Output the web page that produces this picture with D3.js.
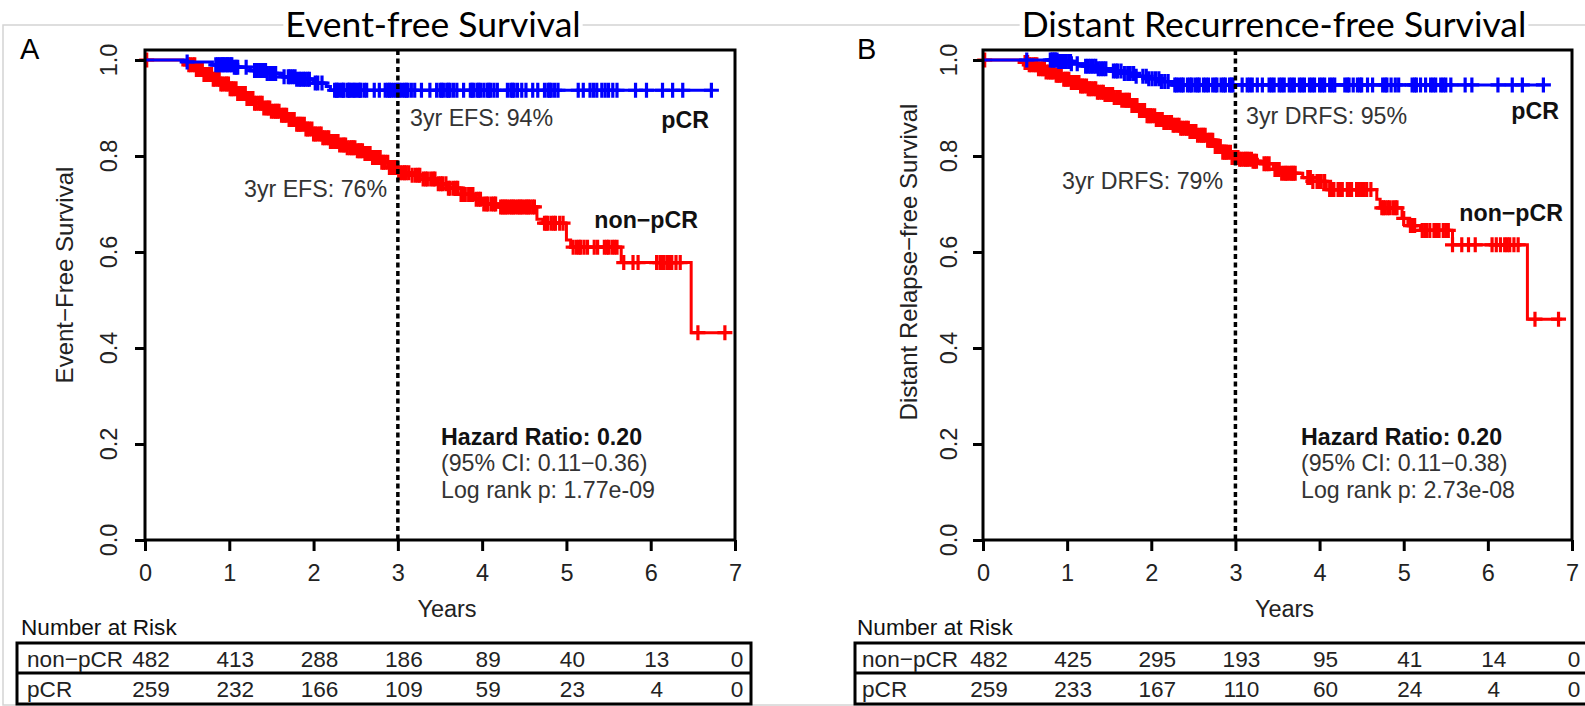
<!DOCTYPE html>
<html><head><meta charset="utf-8">
<script src="https://cdn.jsdelivr.net/npm/d3@7"></script>
<style>
body{margin:0;background:#fff;}
svg{display:block;}
text{font-family:"Liberation Sans",Arial,Helvetica,sans-serif;}
</style></head><body>
<svg id="chart" width="1585" height="706"></svg>
<script>
// ---------------- data ----------------
const yearTicks = [0, 1, 2, 3, 4, 5, 6, 7];
const survTicks = [0, 0.2, 0.4, 0.6, 0.8, 1.0];
const survTickLabels = ["0.0", "0.2", "0.4", "0.6", "0.8", "1.0"];
const groupNames = ["non\u2212pCR", "pCR"];

// Panel A: Event-free survival
const efsNonPcrTimes = [0, 0.45, 0.5, 0.6, 0.7, 0.8, 0.9, 1.0, 1.1, 1.2, 1.3, 1.4, 1.5, 1.6, 1.7, 1.8, 1.9, 2.0, 2.1, 2.2, 2.3, 2.4, 2.5, 2.6, 2.7, 2.8, 2.9, 3.0, 3.15, 3.3, 3.45, 3.6, 3.75, 3.9, 4.0, 4.2, 4.65, 4.72, 5.0, 5.05, 5.65, 6.48];
const efsNonPcrSurv  = [1.0, 0.995, 0.99, 0.98, 0.97, 0.96, 0.95, 0.94, 0.93, 0.92, 0.91, 0.90, 0.893, 0.885, 0.876, 0.866, 0.856, 0.846, 0.838, 0.83, 0.823, 0.817, 0.811, 0.805, 0.797, 0.787, 0.776, 0.765, 0.76, 0.752, 0.742, 0.733, 0.72, 0.71, 0.70, 0.694, 0.668, 0.66, 0.625, 0.61, 0.578, 0.432];
const efsNonPcrCensor = [0.02, 0.52, 0.54, 0.57, 0.59, 0.61, 0.63, 0.66, 0.68, 0.7, 0.72, 0.74, 0.77, 0.79, 0.81, 0.83, 0.86, 0.88, 0.9, 0.92, 0.95, 0.97, 0.99, 1.01, 1.03, 1.05, 1.08, 1.1, 1.12, 1.14, 1.17, 1.19, 1.21, 1.23, 1.26, 1.28, 1.3, 1.32, 1.35, 1.37, 1.39, 1.41, 1.44, 1.46, 1.48, 1.5, 1.53, 1.55, 1.57, 1.59, 1.62, 1.64, 1.66, 1.68, 1.71, 1.73, 1.75, 1.77, 1.8, 1.82, 1.84, 1.86, 1.89, 1.91, 1.93, 1.95, 1.98, 2.0, 2.02, 2.04, 2.07, 2.09, 2.11, 2.13, 2.16, 2.18, 2.2, 2.22, 2.25, 2.27, 2.29, 2.31, 2.34, 2.36, 2.38, 2.4, 2.43, 2.45, 2.47, 2.49, 2.52, 2.54, 2.56, 2.58, 2.61, 2.63, 2.65, 2.67, 2.7, 2.72, 2.74, 2.76, 2.79, 2.81, 2.83, 2.85, 2.88, 2.9, 2.92, 2.94, 2.97, 2.99, 3.01, 3.03, 3.06, 3.08, 3.1, 3.13, 3.17, 3.21, 3.24, 3.26, 3.3, 3.33, 3.35, 3.39, 3.42, 3.44, 3.48, 3.51, 3.53, 3.57, 3.6, 3.62, 3.66, 3.69, 3.71, 3.75, 3.78, 3.8, 3.84, 3.87, 3.89, 3.93, 3.96, 3.98, 4.02, 4.05, 4.07, 4.11, 4.14, 4.16, 4.22, 4.24, 4.26, 4.28, 4.3, 4.33, 4.35, 4.37, 4.39, 4.42, 4.44, 4.46, 4.48, 4.51, 4.53, 4.55, 4.57, 4.6, 4.62, 4.74, 4.76, 4.78, 4.82, 4.85, 4.87, 4.92, 4.96, 5.08, 5.12, 5.15, 5.17, 5.21, 5.25, 5.33, 5.37, 5.45, 5.48, 5.5, 5.54, 5.57, 5.6, 5.68, 5.79, 5.85, 6.07, 6.11, 6.14, 6.16, 6.2, 6.23, 6.25, 6.3, 6.35, 6.56, 6.88];
const efsNonPcrEnd = 6.88;

const efsPcrTimes = [0, 0.5, 0.8, 1.05, 1.25, 1.45, 1.6, 1.8, 2.0, 2.15, 2.2];
const efsPcrSurv  = [1.0, 0.996, 0.99, 0.985, 0.978, 0.972, 0.965, 0.96, 0.952, 0.945, 0.937];
const efsPcrCensor = [0.5, 0.84, 0.86, 0.88, 0.9, 0.92, 0.93, 0.95, 0.97, 0.98, 1.0, 1.02, 1.03, 1.06, 1.08, 1.1, 1.2, 1.3, 1.32, 1.33, 1.36, 1.38, 1.4, 1.43, 1.45, 1.48, 1.5, 1.53, 1.55, 1.65, 1.7, 1.72, 1.75, 1.78, 1.8, 1.83, 1.85, 1.88, 1.9, 1.93, 1.95, 2.02, 2.05, 2.1, 2.25, 2.27, 2.28, 2.3, 2.33, 2.35, 2.36, 2.4, 2.42, 2.43, 2.46, 2.48, 2.5, 2.53, 2.55, 2.56, 2.6, 2.63, 2.72, 2.78, 2.85, 2.88, 2.9, 2.92, 2.95, 2.98, 3.0, 3.02, 3.05, 3.08, 3.1, 3.12, 3.16, 3.2, 3.28, 3.38, 3.46, 3.5, 3.52, 3.54, 3.58, 3.6, 3.62, 3.66, 3.7, 3.78, 3.86, 3.88, 3.9, 3.94, 3.96, 3.98, 4.02, 4.06, 4.08, 4.1, 4.14, 4.18, 4.3, 4.34, 4.36, 4.38, 4.42, 4.47, 4.52, 4.6, 4.66, 4.74, 4.78, 4.8, 4.82, 4.86, 4.9, 5.14, 5.2, 5.28, 5.32, 5.36, 5.42, 5.46, 5.5, 5.55, 5.6, 5.82, 5.95, 6.14, 6.26, 6.38, 6.72];
const efsPcrEnd = 6.72;

const efsRiskNonPcr = [482, 413, 288, 186, 89, 40, 13, 0];
const efsRiskPcr    = [259, 232, 166, 109, 59, 23, 4, 0];

// Panel B: Distant relapse-free survival
const drfsNonPcrTimes = [0, 0.45, 0.55, 0.65, 0.75, 0.85, 0.95, 1.05, 1.15, 1.25, 1.35, 1.45, 1.55, 1.65, 1.75, 1.85, 1.95, 2.05, 2.15, 2.25, 2.35, 2.45, 2.55, 2.65, 2.75, 2.85, 2.95, 3.05, 3.2, 3.3, 3.45, 3.55, 3.8, 3.9, 4.08, 4.68, 4.72, 4.98, 5.05, 5.2, 5.58, 6.47];
const drfsNonPcrSurv  = [1.0, 0.995, 0.99, 0.982, 0.975, 0.968, 0.96, 0.953, 0.946, 0.94, 0.933, 0.928, 0.922, 0.916, 0.905, 0.895, 0.884, 0.876, 0.87, 0.864, 0.858, 0.851, 0.843, 0.833, 0.82, 0.808, 0.797, 0.793, 0.789, 0.784, 0.772, 0.764, 0.755, 0.747, 0.73, 0.71, 0.692, 0.67, 0.655, 0.645, 0.615, 0.46];
const drfsNonPcrCensor = [0.02, 0.5, 0.53, 0.55, 0.57, 0.6, 0.62, 0.64, 0.66, 0.69, 0.71, 0.73, 0.75, 0.78, 0.8, 0.82, 0.84, 0.87, 0.89, 0.91, 0.93, 0.96, 0.98, 1.0, 1.02, 1.05, 1.07, 1.09, 1.11, 1.14, 1.16, 1.18, 1.2, 1.23, 1.25, 1.27, 1.29, 1.32, 1.34, 1.36, 1.38, 1.41, 1.43, 1.45, 1.47, 1.5, 1.52, 1.54, 1.56, 1.59, 1.61, 1.63, 1.65, 1.68, 1.7, 1.72, 1.74, 1.77, 1.79, 1.81, 1.83, 1.86, 1.88, 1.9, 1.92, 1.95, 1.97, 1.99, 2.01, 2.04, 2.06, 2.08, 2.1, 2.13, 2.15, 2.17, 2.19, 2.22, 2.24, 2.26, 2.28, 2.31, 2.33, 2.35, 2.37, 2.4, 2.42, 2.44, 2.46, 2.49, 2.51, 2.53, 2.55, 2.58, 2.6, 2.62, 2.64, 2.67, 2.69, 2.71, 2.73, 2.76, 2.78, 2.8, 2.82, 2.85, 2.87, 2.89, 2.91, 2.94, 2.96, 2.98, 3.0, 3.03, 3.05, 3.07, 3.1, 3.12, 3.14, 3.16, 3.19, 3.21, 3.23, 3.25, 3.34, 3.37, 3.4, 3.47, 3.5, 3.52, 3.55, 3.58, 3.6, 3.62, 3.65, 3.67, 3.69, 3.71, 3.86, 3.89, 3.92, 3.97, 4.0, 4.02, 4.06, 4.12, 4.15, 4.17, 4.22, 4.25, 4.27, 4.33, 4.36, 4.38, 4.44, 4.47, 4.5, 4.53, 4.56, 4.61, 4.74, 4.76, 4.78, 4.81, 4.83, 4.87, 4.9, 4.92, 5.0, 5.08, 5.11, 5.13, 5.22, 5.25, 5.27, 5.31, 5.36, 5.39, 5.42, 5.47, 5.5, 5.53, 5.58, 5.69, 5.77, 5.85, 6.05, 6.1, 6.15, 6.2, 6.23, 6.26, 6.31, 6.36, 6.56, 6.84];
const drfsNonPcrEnd = 6.88;

const drfsPcrTimes = [0, 0.9, 1.05, 1.2, 1.35, 1.5, 1.65, 1.8, 1.95, 2.1, 2.25];
const drfsPcrSurv  = [1.0, 0.997, 0.992, 0.987, 0.982, 0.977, 0.972, 0.966, 0.961, 0.955, 0.948];
const drfsPcrCensor = [0.52, 0.8, 0.82, 0.83, 0.85, 0.86, 0.88, 0.9, 0.91, 0.93, 0.95, 0.96, 0.98, 0.99, 1.02, 1.04, 1.05, 1.12, 1.22, 1.25, 1.28, 1.31, 1.34, 1.37, 1.4, 1.43, 1.46, 1.55, 1.58, 1.6, 1.64, 1.68, 1.72, 1.75, 1.79, 1.82, 1.9, 1.94, 1.97, 2.01, 2.05, 2.09, 2.12, 2.16, 2.2, 2.28, 2.3, 2.33, 2.36, 2.38, 2.43, 2.46, 2.48, 2.52, 2.55, 2.57, 2.62, 2.65, 2.68, 2.73, 2.76, 2.78, 2.83, 2.86, 2.88, 2.93, 2.95, 2.97, 3.08, 3.14, 3.17, 3.2, 3.26, 3.32, 3.4, 3.43, 3.46, 3.52, 3.55, 3.58, 3.64, 3.67, 3.7, 3.76, 3.79, 3.82, 3.88, 3.91, 3.94, 4.0, 4.03, 4.06, 4.12, 4.15, 4.18, 4.3, 4.33, 4.35, 4.4, 4.45, 4.48, 4.5, 4.57, 4.63, 4.75, 4.78, 4.8, 4.85, 4.9, 4.94, 5.1, 5.13, 5.15, 5.2, 5.26, 5.32, 5.35, 5.38, 5.44, 5.47, 5.5, 5.56, 5.73, 5.81, 6.12, 6.29, 6.41, 6.66];
const drfsPcrEnd = 6.68;

const drfsRiskNonPcr = [482, 425, 295, 193, 95, 41, 14, 0];
const drfsRiskPcr    = [259, 233, 167, 110, 60, 24, 4, 0];

// ---------------- drawing ----------------
const svg = d3.select("#chart");
const RED = "#ff0000", BLUE = "#0000ff";

// light figure border
svg.append("rect").attr("x", 3).attr("y", 25).attr("width", 1600).attr("height", 680)
  .attr("fill", "none").attr("stroke", "#d4d4d4").attr("stroke-width", 1.5);

const panels = [
  {
    letter: "A", letterX: 20, title: "Event-free Survival", titleX: 433,
    yTitle: "Event\u2212Free Survival", yTitleX: 73, yTitleY: 275, tickLabX: 117,
    xRange: [145, 735],
    curves: [
      {t: efsNonPcrTimes, s: efsNonPcrSurv, c: efsNonPcrCensor, end: efsNonPcrEnd, color: RED},
      {t: efsPcrTimes, s: efsPcrSurv, c: efsPcrCensor, end: efsPcrEnd, color: BLUE}
    ],
    notes: [
      {text: "3yr EFS: 94%", x: 410, y: 126, anchor: "start", bold: false},
      {text: "3yr EFS: 76%", x: 244, y: 197, anchor: "start", bold: false},
      {text: "pCR", x: 709, y: 128, anchor: "end", bold: true},
      {text: "non\u2212pCR", x: 698, y: 228, anchor: "end", bold: true},
      {text: "Hazard Ratio: 0.20", x: 441, y: 445, anchor: "start", bold: true},
      {text: "(95% CI: 0.11\u22120.36)", x: 441, y: 471, anchor: "start", bold: false},
      {text: "Log rank p: 1.77e-09", x: 441, y: 498, anchor: "start", bold: false}
    ],
    risk: [efsRiskNonPcr, efsRiskPcr],
    tableLeft: 17, tableRight: 751, nrX: 21, rowLabX: 27
  },
  {
    letter: "B", letterX: 857, title: "Distant Recurrence-free Survival", titleX: 1274,
    yTitle: "Distant Relapse\u2212free Survival", yTitleX: 917, yTitleY: 262, tickLabX: 957,
    xRange: [983, 1572],
    curves: [
      {t: drfsNonPcrTimes, s: drfsNonPcrSurv, c: drfsNonPcrCensor, end: drfsNonPcrEnd, color: RED},
      {t: drfsPcrTimes, s: drfsPcrSurv, c: drfsPcrCensor, end: drfsPcrEnd, color: BLUE}
    ],
    notes: [
      {text: "3yr DRFS: 95%", x: 1246, y: 124, anchor: "start", bold: false},
      {text: "3yr DRFS: 79%", x: 1062, y: 189, anchor: "start", bold: false},
      {text: "pCR", x: 1559, y: 119, anchor: "end", bold: true},
      {text: "non\u2212pCR", x: 1563, y: 221, anchor: "end", bold: true},
      {text: "Hazard Ratio: 0.20", x: 1301, y: 445, anchor: "start", bold: true},
      {text: "(95% CI: 0.11\u22120.38)", x: 1301, y: 471, anchor: "start", bold: false},
      {text: "Log rank p: 2.73e-08", x: 1301, y: 498, anchor: "start", bold: false}
    ],
    risk: [drfsRiskNonPcr, drfsRiskPcr],
    tableLeft: 855, tableRight: 1600, nrX: 857, rowLabX: 862
  }
];

const FS_TICK = 23.5, FS_TITLE = 24, FS_NOTE = 23.2, FS_TAB = 22.6;
const frameTop = 50;

panels.forEach(p => {
  const x = d3.scaleLinear().domain([0, 7]).range(p.xRange);
  const y = d3.scaleLinear().domain([0, 1]).range([540, 60]);
  const g = svg.append("g");

  // title with white backing over the border line
  const tt = g.append("text").attr("x", p.titleX).attr("y", 37).attr("text-anchor", "middle")
    .style("font-family", "Lato, 'Open Sans', sans-serif").style("font-size", "35.5px").attr("fill", "#000")
    .text(p.title);
  const bb = tt.node().getBBox();
  g.insert("rect", "text").attr("x", bb.x - 2).attr("y", 20).attr("width", bb.width + 4).attr("height", 12).attr("fill", "#fff");

  g.append("text").attr("x", p.letterX).attr("y", 59).style("font-size", "29px").text(p.letter);

  // curves
  p.curves.forEach(cv => {
    const pts = cv.t.map((t, i) => [t, cv.s[i]]);
    pts.push([cv.end, cv.s[cv.s.length - 1]]);
    const line = d3.line().x(d => x(d[0])).y(d => y(d[1])).curve(d3.curveStepAfter);
    g.append("path").attr("d", line(pts)).attr("fill", "none").attr("stroke", cv.color).attr("stroke-width", 3);
    const survAt = t => { let s = cv.s[0]; for (let i = 0; i < cv.t.length; i++) { if (cv.t[i] <= t) s = cv.s[i]; } return s; };
    const h = 7.5;
    g.append("g").selectAll("path").data(cv.c).join("path")
      .attr("d", t => { const cx = x(t), cy = y(survAt(t)); return `M${cx - h},${cy}H${cx + h}M${cx},${cy - h}V${cy + h}`; })
      .attr("stroke", cv.color).attr("stroke-width", 3.2).attr("fill", "none");
  });

  // 3-year dashed reference line
  g.append("line").attr("x1", x(3)).attr("x2", x(3)).attr("y1", frameTop).attr("y2", y(0))
    .attr("stroke", "#000").attr("stroke-width", 3.5).attr("stroke-dasharray", "5,3.5");

  // frame
  g.append("rect").attr("x", x(0)).attr("y", frameTop).attr("width", x(7) - x(0)).attr("height", y(0) - frameTop)
    .attr("fill", "none").attr("stroke", "#000").attr("stroke-width", 3);

  // axes
  const xAxis = d3.axisBottom(x).tickValues(yearTicks).tickSize(11).tickPadding(8).tickFormat(d3.format("d"));
  const xg = g.append("g").attr("transform", `translate(0,${y(0)})`).call(xAxis);
  xg.select(".domain").remove();
  xg.selectAll("line").attr("stroke", "#000").attr("stroke-width", 3);
  xg.selectAll("text").style("font-size", FS_TICK + "px").style("font-family", "'Liberation Sans', Arial, sans-serif").attr("fill", "#222").attr("dy", "0.92em");

  const yAxis = d3.axisLeft(y).tickValues(survTicks).tickSize(10).tickFormat((d, i) => survTickLabels[i]);
  const yg = g.append("g").attr("transform", `translate(${x(0)},0)`).call(yAxis);
  yg.select(".domain").remove();
  yg.selectAll("line").attr("stroke", "#000").attr("stroke-width", 3);
  yg.selectAll("text").remove();
  g.append("g").selectAll("text").data(survTicks).join("text")
    .attr("transform", d => `translate(${p.tickLabX},${y(d)}) rotate(-90)`)
    .attr("text-anchor", "middle").style("font-size", FS_TICK + "px").attr("fill", "#222")
    .text((d, i) => survTickLabels[i]);

  // axis titles
  g.append("text").attr("transform", `translate(${p.yTitleX},${p.yTitleY}) rotate(-90)`)
    .attr("text-anchor", "middle").style("font-size", FS_TITLE + "px").attr("fill", "#222").text(p.yTitle);
  g.append("text").attr("x", (x(0) + x(7)) / 2 + 7).attr("y", 617).attr("text-anchor", "middle")
    .style("font-size", FS_TICK + "px").attr("fill", "#222").text("Years");

  // annotations
  p.notes.forEach(n => {
    g.append("text").attr("x", n.x).attr("y", n.y).attr("text-anchor", n.anchor)
      .style("font-size", FS_NOTE + "px").style("font-weight", n.bold ? "bold" : "normal")
      .attr("fill", n.bold ? "#111" : "#333").text(n.text);
  });

  // number at risk table
  g.append("text").attr("x", p.nrX).attr("y", 635).style("font-size", FS_TAB + "px").attr("fill", "#111").text("Number at Risk");
  const rowTop = [643, 673];
  g.append("rect").attr("x", p.tableLeft).attr("y", 643).attr("width", p.tableRight - p.tableLeft).attr("height", 61)
    .attr("fill", "none").attr("stroke", "#000").attr("stroke-width", 3);
  g.append("line").attr("x1", p.tableLeft).attr("x2", p.tableRight).attr("y1", 673).attr("y2", 673)
    .attr("stroke", "#000").attr("stroke-width", 3);
  p.risk.forEach((row, r) => {
    const by = rowTop[r] + 24;
    g.append("text").attr("x", p.rowLabX).attr("y", by).style("font-size", FS_TAB + "px").attr("fill", "#222").text(groupNames[r]);
    g.append("g").selectAll("text").data(row).join("text")
      .attr("x", (d, i) => x(yearTicks[i]) + (i === 7 ? 2 : 6)).attr("y", by)
      .attr("text-anchor", "middle").style("font-size", FS_TAB + "px").attr("fill", "#222").text(d => d);
  });
});
</script>
</body></html>
